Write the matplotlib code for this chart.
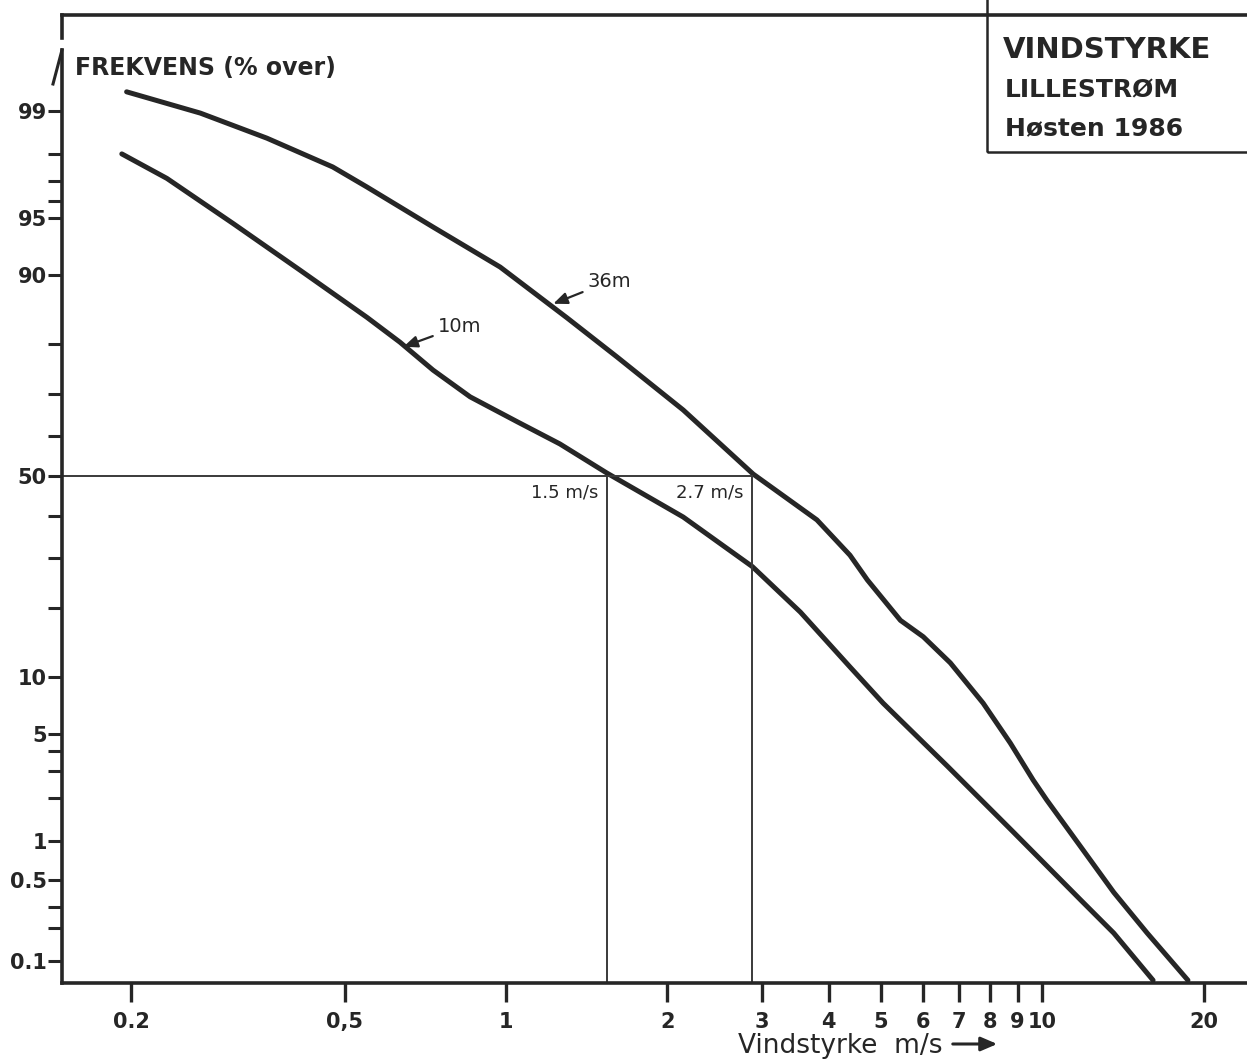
from statistics import NormalDist
import numpy as np
import matplotlib
matplotlib.use("Agg")
import matplotlib.pyplot as plt
from matplotlib.patches import Rectangle, FancyArrowPatch
from matplotlib.ticker import FixedLocator, NullLocator, FixedFormatter

# wind speed (m/s) against frequency (% of time the speed is exceeded)
speed_36m = [0.196, 0.269, 0.358, 0.475, 0.550, 0.731, 0.975, 1.30, 1.61, 2.14,
             2.89, 3.80, 4.38, 4.72, 5.44, 6.0, 6.74, 7.76, 8.72, 9.62,
             10.2, 11.8, 13.6, 15.7, 18.7]
freq_36m = [99.28, 98.96, 98.43, 97.55, 96.72, 94.36, 90.84, 84.3, 77.6, 66.3,
            50.5, 39.0, 30.7, 25.4, 17.9, 15.3, 11.7, 7.4, 4.45, 2.64,
            1.95, 0.91, 0.40, 0.18, 0.066]

speed_10m = [0.192, 0.233, 0.310, 0.413, 0.550, 0.634, 0.731, 0.857, 1.05, 1.26,
             1.54, 2.14, 2.88, 3.54, 4.38, 5.05, 6.65, 8.83, 11.8, 13.6, 16.1]
freq_10m = [97.99, 97.1, 94.6, 90.5, 84.4, 80.3, 75.0, 69.3, 63.5, 58.1,
            50.8, 39.7, 28.2, 19.3, 11.2, 7.4, 3.24, 1.17, 0.346, 0.18, 0.066]

# median speeds (50 % line)
median_10m = 1.543
median_36m = 2.88

x_ticks = [0.2, 0.5, 1, 2, 3, 4, 5, 6, 7, 8, 9, 10, 20]
x_labels = ["0.2", "0,5", "1", "2", "3", "4", "5", "6", "7", "8", "9", "10", "20"]
y_ticks = [0.1, 0.5, 1, 5, 10, 50, 90, 95, 99]
y_labels = ["0.1", "0.5", "1", "5", "10", "50", "90", "95", "99"]
y_minor = [0.2, 0.3, 2, 3, 4, 20, 30, 40, 60, 70, 80, 96, 97, 98]

XMIN, XMAX = 0.1485, 24.1
YMIN, YMAX = 0.0621, 99.834

ink = "#262626"

nd = NormalDist()
_ppf = np.vectorize(nd.inv_cdf, otypes=[float])
_cdf = np.vectorize(nd.cdf, otypes=[float])


def prob_fwd(p):
    p = np.clip(np.asarray(p, dtype=float) / 100.0, 1e-9, 1 - 1e-9)
    return _ppf(p)


def prob_inv(z):
    return _cdf(np.asarray(z, dtype=float)) * 100.0


fig = plt.figure(figsize=(12.47, 10.6), dpi=100)
ax = fig.add_axes([62 / 1247, 77 / 1060, 1 - 62 / 1247, 968 / 1060])
ax.set_xscale("log")
ax.set_yscale("function", functions=(prob_fwd, prob_inv))
ax.set_xlim(XMIN, XMAX)
ax.set_ylim(YMIN, YMAX)

# curves
ax.plot(speed_36m, freq_36m, color=ink, lw=3.6, solid_joinstyle="round",
        solid_capstyle="round")
ax.plot(speed_10m, freq_10m, color=ink, lw=3.6, solid_joinstyle="round",
        solid_capstyle="round")

# median guide lines
ax.plot([XMIN, median_36m], [50, 50], color="#3a3a3a", lw=1.4)
ax.plot([median_10m, median_10m], [YMIN, 50], color="#3a3a3a", lw=1.4)
ax.plot([median_36m, median_36m], [YMIN, 50], color="#3a3a3a", lw=1.4)
ax.annotate("1.5 m/s", (median_10m, 50), xytext=(-9, -16), textcoords="offset pixels",
            ha="right", va="center", fontsize=13, color=ink)
ax.annotate("2.7 m/s", (median_36m, 50), xytext=(-9, -16), textcoords="offset pixels",
            ha="right", va="center", fontsize=13, color=ink)

# curve labels
arrow = dict(arrowstyle="-|>,head_length=0.6,head_width=0.25", color=ink, lw=1.6,
             shrinkA=2, shrinkB=1)
ax.annotate("36m", (1.218, 86.3), xytext=(36, 23), textcoords="offset pixels",
            ha="left", va="center", fontsize=14, color=ink, arrowprops=arrow)
ax.annotate("10m", (0.64, 79.4), xytext=(36, 21), textcoords="offset pixels",
            ha="left", va="center", fontsize=14, color=ink, arrowprops=arrow)

# axes styling
ax.spines["right"].set_visible(False)
for side in ["left", "bottom", "top"]:
    ax.spines[side].set_color(ink)
    ax.spines[side].set_linewidth(2.6)
ax.spines["left"].set_bounds(YMIN, 99.667)

ax.xaxis.set_major_locator(FixedLocator(x_ticks))
ax.xaxis.set_major_formatter(FixedFormatter(x_labels))
ax.xaxis.set_minor_locator(NullLocator())
ax.yaxis.set_major_locator(FixedLocator(y_ticks))
ax.yaxis.set_major_formatter(FixedFormatter(y_labels))
ax.yaxis.set_minor_locator(FixedLocator(y_minor))
ax.yaxis.set_minor_formatter(FixedFormatter([]))

ax.tick_params(axis="x", which="major", direction="out", length=14, width=2.4,
               color=ink, pad=7, labelsize=15, labelcolor=ink)
ax.tick_params(axis="y", which="both", direction="out", length=10, width=2.2,
               color=ink, pad=1, labelsize=15, labelcolor=ink)
for lab in ax.get_xticklabels() + ax.get_yticklabels():
    lab.set_fontweight("bold")

# top piece of the left frame and the axis arrow barb
ax.plot([0, 0], [(983 - 38) / 968, 1.0], transform=ax.transAxes, color=ink,
        lw=2.6, clip_on=False)
ax.plot([0, -9 / 1185], [(983 - 50) / 968, (983 - 84) / 968], transform=ax.transAxes,
        color=ink, lw=2.2, clip_on=False)

# axis titles
fig.text(75 / 1247, 1 - 68 / 1060, "FREKVENS (% over)", ha="left", va="center",
         fontsize=17, fontweight="bold", color=ink)
fig.text(738 / 1247, 1 - 1046 / 1060, "Vindstyrke  m/s", ha="left", va="center",
         fontsize=19, color=ink)
fig.add_artist(FancyArrowPatch(
    (950 / 1247, 1 - 1044 / 1060), (1000 / 1247, 1 - 1044 / 1060),
    transform=fig.transFigure, arrowstyle="-|>,head_length=0.7,head_width=0.3",
    color=ink, lw=2.2, mutation_scale=14))

# title box
fig.add_artist(Rectangle((987 / 1247, 1 - 152 / 1060), 0.3, 0.3,
                         transform=fig.transFigure, fill=False, edgecolor=ink,
                         lw=1.8))
fig.text(1003 / 1247, 1 - 50 / 1060, "VINDSTYRKE", ha="left", va="center",
         fontsize=21, fontweight="bold", color=ink)
fig.text(1005 / 1247, 1 - 90 / 1060, "LILLESTRØM", ha="left", va="center",
         fontsize=18, fontweight="bold", color=ink)
fig.text(1005 / 1247, 1 - 128 / 1060, "Høsten 1986", ha="left", va="center",
         fontsize=18, fontweight="bold", color=ink)

fig.savefig("out.png", dpi=100)
